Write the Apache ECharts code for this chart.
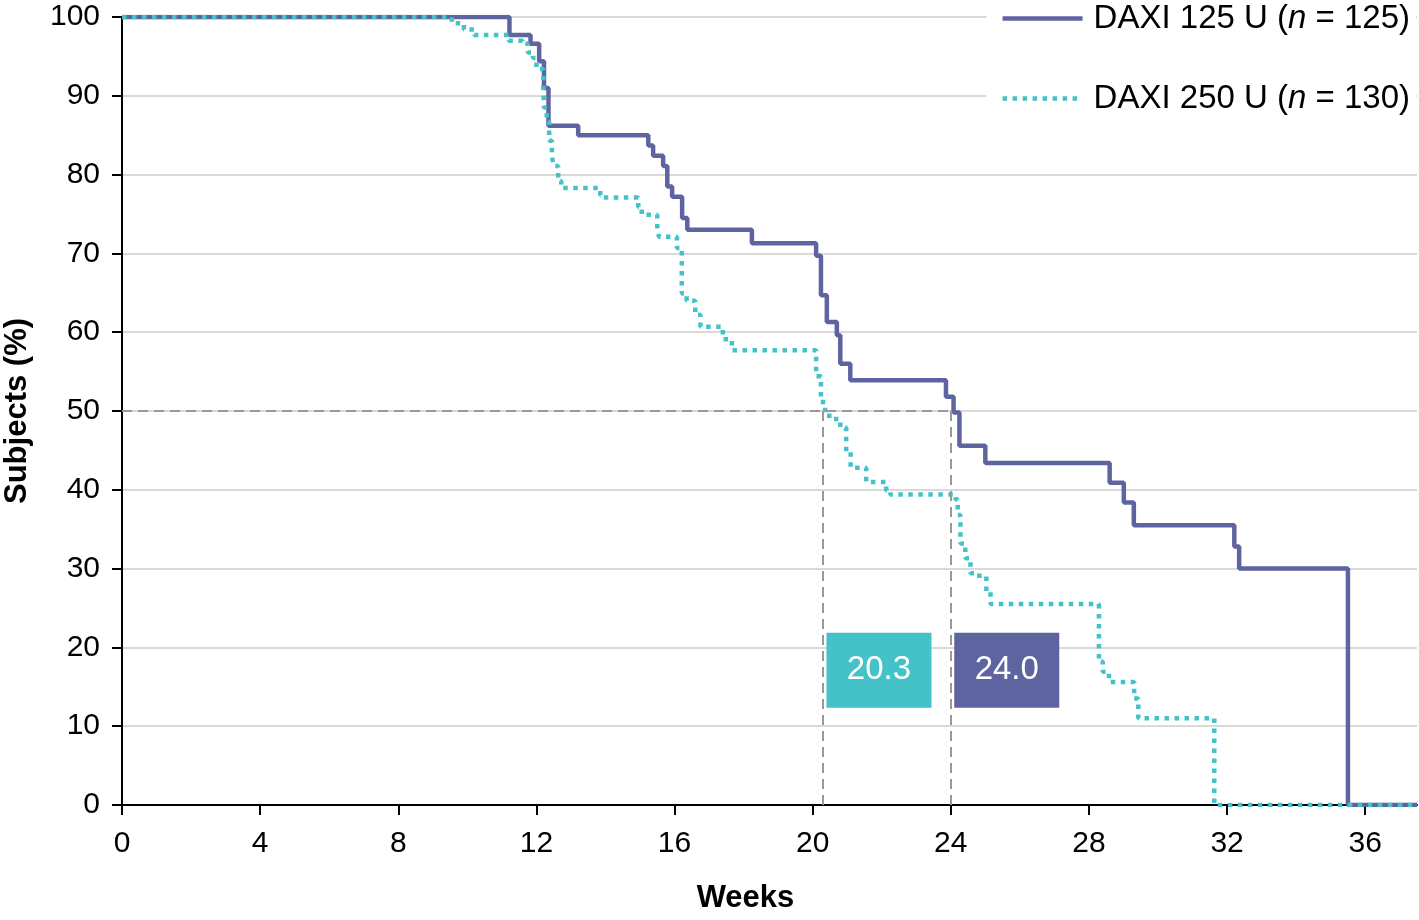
<!DOCTYPE html>
<html>
<head>
<meta charset="utf-8">
<script src="https://cdn.jsdelivr.net/npm/echarts@6/dist/echarts.min.js"></script>
<style>
html,body{margin:0;padding:0;background:#fff;}
#chart{width:1419px;height:920px;}
</style>
</head>
<body>
<div id="chart"></div>
<script>
// ---- data ----
const seriesNames = ['DAXI 125 U', 'DAXI 250 U'];
const nValues = [125, 130];
const medians = [24.0, 20.3];
const medianLabels = ['24.0', '20.3'];
const xTicks = [0, 4, 8, 12, 16, 20, 24, 28, 32, 36];
const yTicks = [0, 10, 20, 30, 40, 50, 60, 70, 80, 90, 100];

// DAXI 125 U: event times (weeks) and survival (%) after each step
const weeks125 = [0, 11.22, 11.83, 12.08, 12.22, 12.35, 13.21, 15.24, 15.38, 15.67, 15.79, 15.93, 16.22, 16.37,
  18.24, 20.10, 20.24, 20.41, 20.70, 20.80, 21.09, 23.86, 24.08, 24.25, 25.00, 28.60, 29.01, 29.30,
  32.21, 32.35, 35.50, 37.5];
const surv125 = [100, 97.7, 96.6, 94.4, 91.0, 86.2, 85.0, 83.7, 82.4, 81.1, 78.5, 77.2, 74.5, 73.0,
  71.3, 69.7, 64.7, 61.3, 59.6, 56.0, 53.9, 51.8, 49.8, 45.6, 43.4, 40.9, 38.4, 35.5,
  32.8, 30.0, 0, 0];

// DAXI 250 U
const weeks250 = [0, 9.55, 9.90, 10.20, 11.20, 11.60, 11.75, 11.90, 12.00, 12.20, 12.22, 12.30, 12.37, 12.45,
  12.50, 12.63, 12.72, 13.85, 13.93, 14.95, 15.05, 15.50, 15.55, 16.07, 16.21, 16.35, 16.60, 16.75,
  17.40, 17.66, 20.10, 20.24, 20.30, 20.36, 20.48, 20.80, 20.97, 21.10, 21.55, 22.13, 22.25,
  24.13, 24.20, 24.28, 24.42, 24.57, 24.76, 25.03, 25.15, 28.29, 28.40, 28.58, 29.31, 29.43, 31.63, 37.5];
const surv250 = [100, 99.2, 98.4, 97.7, 97.0, 96.6, 95.5, 94.8, 93.4, 91.0, 88.5, 86.7, 84.3, 82.3,
  81.1, 79.2, 78.3, 77.4, 77.1, 75.9, 74.9, 73.4, 72.1, 70.7, 64.9, 64.0, 62.2, 60.7,
  59.1, 57.7, 54.4, 51.6, 50.5, 49.8, 49.0, 47.9, 44.8, 42.8, 41.0, 39.9, 39.4,
  38.8, 36.8, 33.2, 31.3, 29.4, 29.1, 27.1, 25.5, 18.2, 16.9, 15.6, 13.5, 11.0, 0, 0];

// ---- styling / layout ----
const COL125 = '#5E64A0';
const COL250 = '#45C1C8';
const FONT = '"Liberation Sans", Arial, sans-serif';
const boxOffsetX = 1.62;
const boxCenterY = 17.1;

const pairs = (xs, ys) => xs.map((x, i) => [x, ys[i]]);

const chart = echarts.init(document.getElementById('chart'), null, {renderer: 'canvas'});

const fullNames = seriesNames.map((s, i) => s + ' (n = ' + nValues[i] + ')');

function medianBox(i, color) {
  return {
    silent: true,
    symbol: 'rect',
    symbolSize: [105, 75],
    itemStyle: {color: color},
    label: {show: true, position: 'inside', color: '#fff', fontSize: 33, fontFamily: FONT,
      formatter: medianLabels[i]},
    data: [{coord: [medians[i] + boxOffsetX, boxCenterY]}]
  };
}

const option = {
  animation: false,
  backgroundColor: '#fff',
  textStyle: {fontFamily: FONT},
  grid: {left: 122, right: 2, top: 17, bottom: 115, containLabel: false, outerBoundsMode: 'none'},
  legend: {
    orient: 'vertical',
    right: 3,
    top: 0,
    itemWidth: 80,
    itemHeight: 14,
    itemGap: 47,
    backgroundColor: '#fff',
    padding: [2, 6, 12, 14],
    data: fullNames,
    itemStyle: {opacity: 0, borderWidth: 0},
    lineStyle: {width: 4.5},
    formatter: function (name) {
      const i = fullNames.indexOf(name);
      return seriesNames[i] + ' ({i|n} = ' + nValues[i] + ')';
    },
    textStyle: {
      fontSize: 33, color: '#000', fontFamily: FONT, padding: [0, 0, 0, 6],
      rich: {i: {fontStyle: 'italic', fontSize: 33, color: '#000', fontFamily: FONT}}
    }
  },
  xAxis: {
    type: 'value',
    min: 0,
    max: 37.5,
    interval: 4,
    name: 'Weeks',
    nameLocation: 'middle',
    nameGap: 78,
    nameTextStyle: {fontSize: 31, fontWeight: 'bold', color: '#000', fontFamily: FONT, padding: [0, 48, 0, 0]},
    axisLine: {show: true, lineStyle: {color: '#000', width: 2}},
    axisTick: {show: true, length: 10, lineStyle: {color: '#000', width: 2}, customValues: xTicks},
    axisLabel: {fontSize: 30, color: '#000', margin: 24, fontFamily: FONT, customValues: xTicks},
    splitLine: {show: false}
  },
  yAxis: {
    type: 'value',
    min: 0,
    max: 100,
    interval: 10,
    name: 'Subjects (%)',
    nameLocation: 'middle',
    nameGap: 89,
    nameTextStyle: {fontSize: 31, fontWeight: 'bold', color: '#000', fontFamily: FONT},
    axisLine: {show: true, lineStyle: {color: '#000', width: 2}},
    axisTick: {show: true, length: 10, lineStyle: {color: '#000', width: 2}, customValues: yTicks},
    axisLabel: {fontSize: 30, color: '#000', margin: 22, fontFamily: FONT, customValues: yTicks},
    splitLine: {show: true, lineStyle: {color: '#d9d9d9', width: 2}}
  },
  series: [
    {
      name: 'refLines',
      type: 'line',
      data: [],
      z: 1,
      silent: true,
      markLine: {
        silent: true,
        symbol: ['none', 'none'],
        label: {show: false},
        lineStyle: {color: '#9a9a9a', type: [10, 6], width: 2},
        data: [
          [{coord: [0, 50]}, {coord: [medians[0], 50]}],
          [{coord: [medians[1], 50]}, {coord: [medians[1], 0]}],
          [{coord: [medians[0], 50]}, {coord: [medians[0], 0]}]
        ]
      }
    },
    {
      name: fullNames[1],
      type: 'line',
      step: 'end',
      symbol: 'none',
      showSymbol: false,
      data: pairs(weeks250, surv250),
      lineStyle: {color: COL250, width: 4.5, type: [4.5, 5.5]},
      itemStyle: {color: COL250},
      z: 3,
      markPoint: medianBox(1, COL250)
    },
    {
      name: fullNames[0],
      type: 'line',
      step: 'end',
      symbol: 'none',
      showSymbol: false,
      data: pairs(weeks125, surv125),
      lineStyle: {color: COL125, width: 4.5},
      itemStyle: {color: COL125},
      z: 2,
      markPoint: medianBox(0, COL125)
    }
  ]
};

chart.setOption(option);
</script>
</body>
</html>
